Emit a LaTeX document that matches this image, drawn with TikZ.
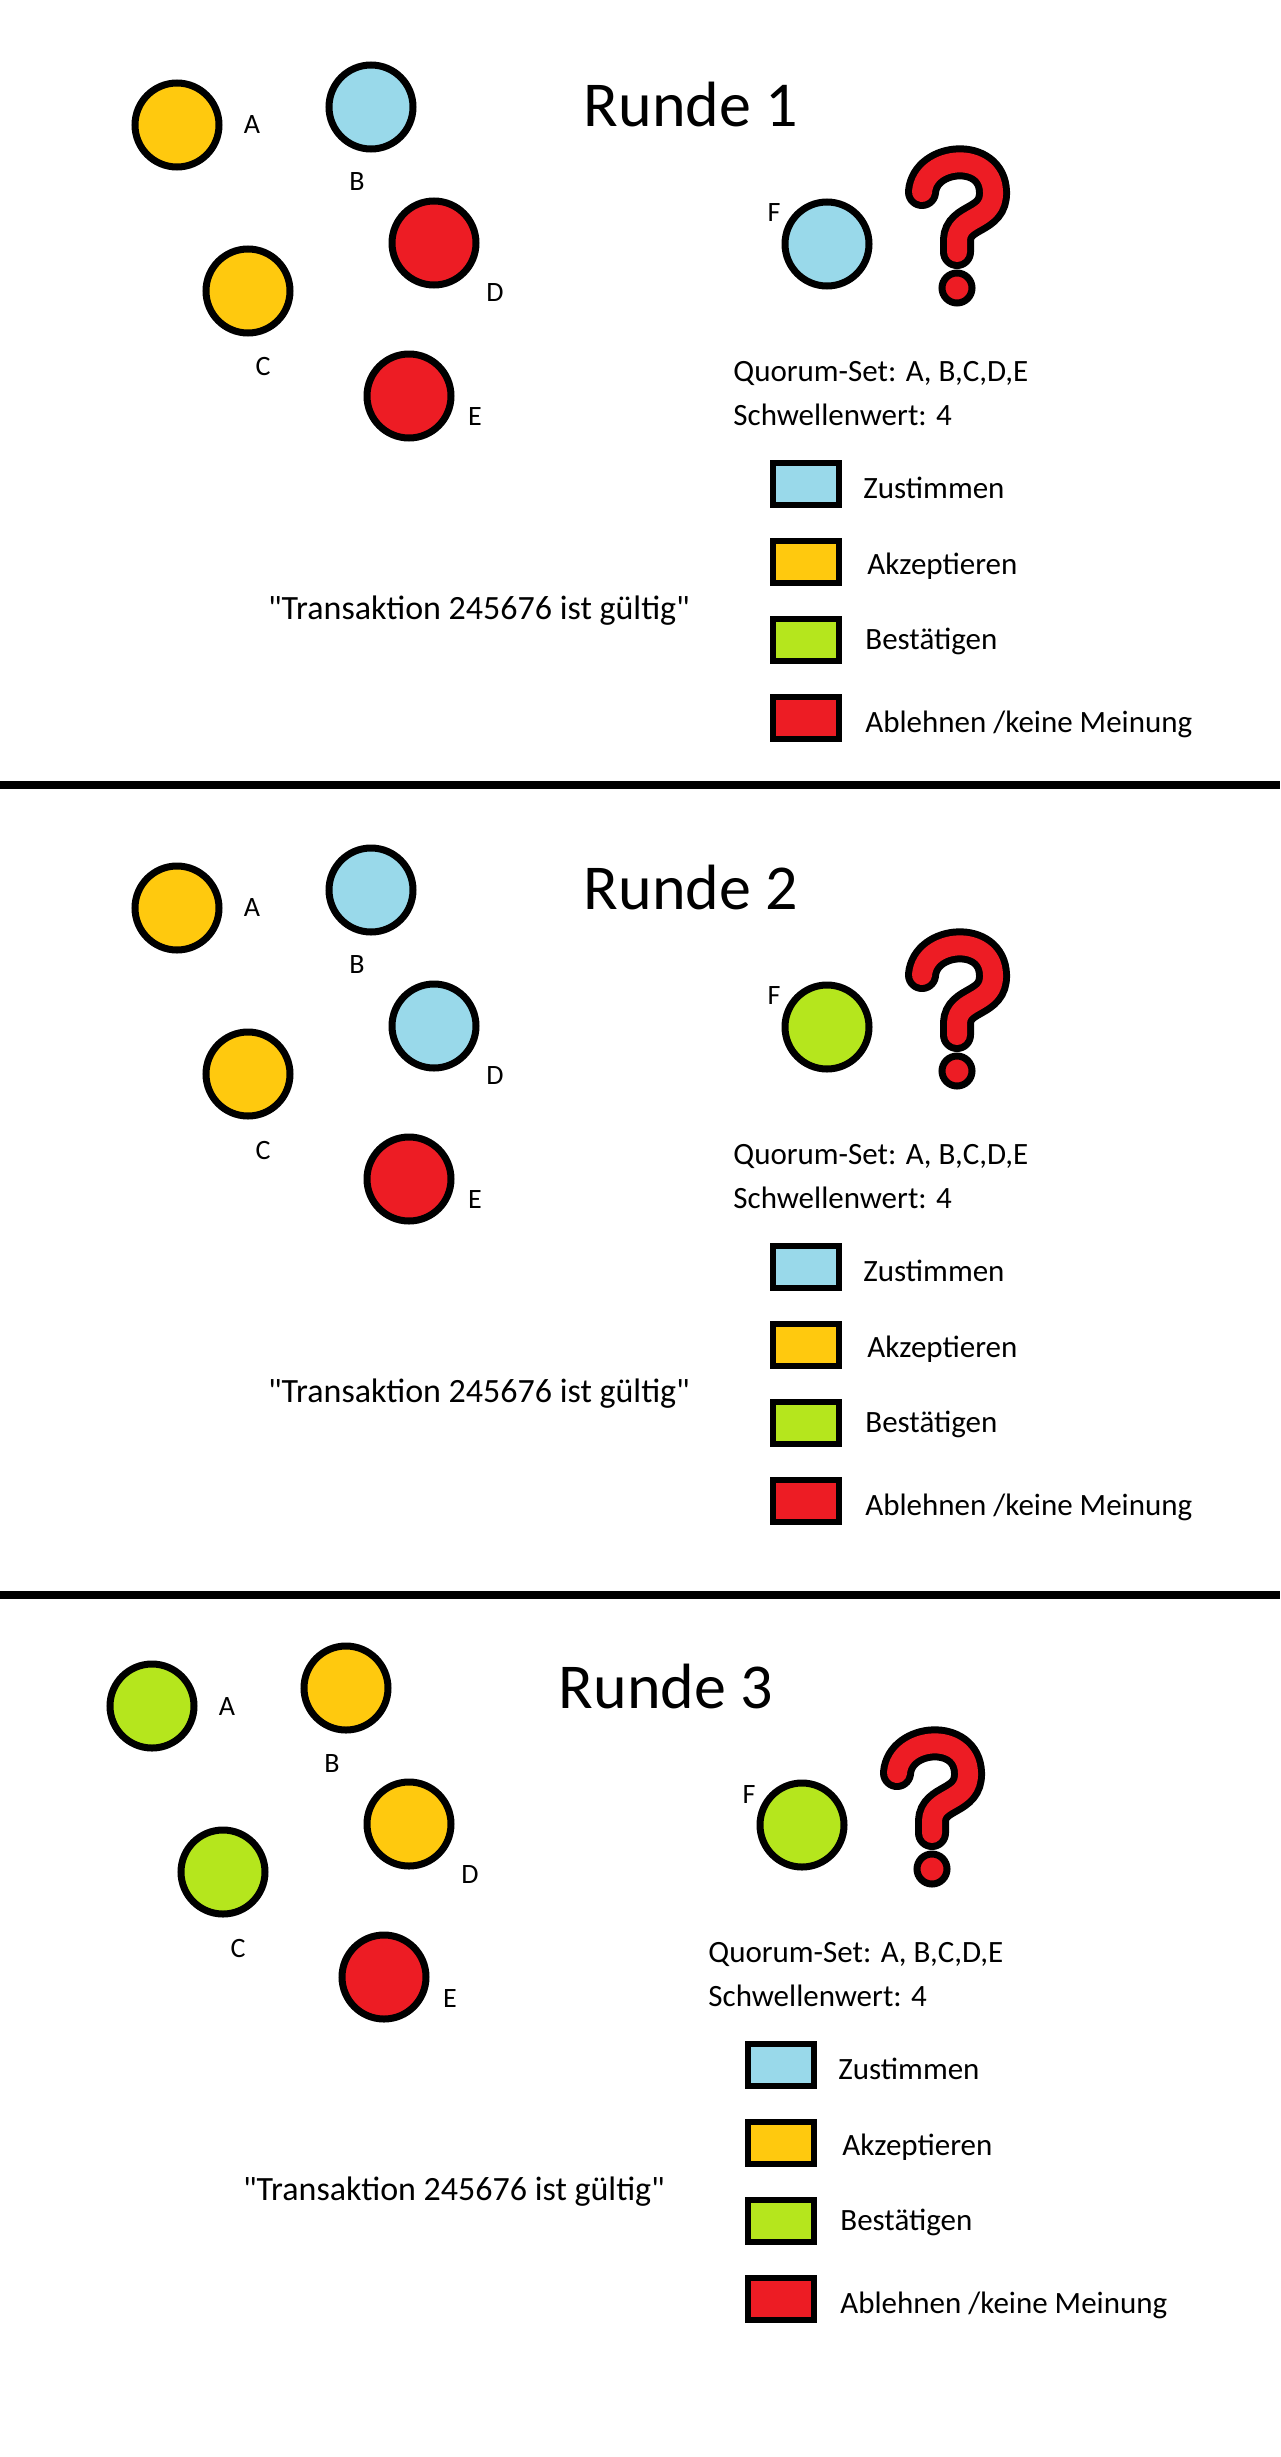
\documentclass[tikz,border=0pt]{standalone}
\usepackage{fontspec}
\setmainfont{Carlito}
\newfontfamily\qf{Carlito}
\definecolor{cblue}{HTML}{99D9EA}
\definecolor{cyel}{HTML}{FFC90E}
\definecolor{cgreen}{HTML}{B5E61D}
\definecolor{cred}{HTML}{ED1C24}
\tikzset{
 pt/.style={circle,draw=black,line width=3.5pt,minimum size=42pt,inner sep=0pt},
 lab/.style={font=\fontsize{14}{16}\selectfont,inner sep=0pt},
 txt/.style={font=\fontsize{15.5}{17}\selectfont,inner sep=0pt,anchor=west},
 box/.style={draw=black,line width=3pt,minimum width=33pt,minimum height=21pt,inner sep=0pt},
 ttl/.style={font=\fontsize{32}{36}\selectfont,inner sep=0pt}
}
\newcommand\drawround[9]{%
 \begin{scope}[shift={(#2,#1)}]
 \node[ttl] (#3t) at (691,105) {Runde #3};
 \node[pt,fill=#4] (#3A) at (177,125) {};
 \node[pt,fill=#5] (#3B) at (371,107) {};
 \node[pt,fill=#6] (#3C) at (248,291) {};
 \node[pt,fill=#7] (#3D) at (434,243) {};
 \node[pt,fill=#8] (#3E) at (409,396) {};
 \node[pt,fill=#9] (#3F) at (827,244) {};
 \node[lab] (#3a) at (252,125) {A};
 \node[lab] (#3b) at (357,182) {B};
 \node[lab] (#3c) at (263,367) {C};
 \node[lab] (#3d) at (495,293) {D};
 \node[lab] (#3e) at (475,417) {E};
 \node[lab] (#3f) at (774,213) {F};
 \draw[line width=17pt,line cap=round] (922,192) .. controls (925,155) and (992,150) .. (993,192) .. controls (994,222) and (958,215) .. (957,240) -- (957,252);
 \draw[line width=10pt,line cap=round,cred] (922,192) .. controls (925,155) and (992,150) .. (993,192) .. controls (994,222) and (958,215) .. (957,240) -- (957,252);
 \node[circle,draw=black,line width=3.5pt,fill=cred,minimum size=15pt,inner sep=0pt] (#3q) at (957,288) {};
 \node[txt] (#3qs) at (733,373) {Quorum-Set: A, B,C,D,E};
 \node[txt] (#3sw) at (733,415) {Schwellenwert: 4};
 \node[box,fill=cblue] (#3b1) at (806,484) {};
 \node[box,fill=cyel] (#3b2) at (806,562) {};
 \node[box,fill=cgreen] (#3b3) at (806,640) {};
 \node[box,fill=cred] (#3b4) at (806,718) {};
 \node[txt] (#3l1) at (863,488) {Zustimmen};
 \node[txt] (#3l2) at (867,566) {Akzeptieren};
 \node[txt] (#3l3) at (865,641) {Bestätigen};
 \node[txt] (#3l4) at (865,724) {Ablehnen /keine Meinung};
 \node[font=\qf\fontsize{17}{19}\selectfont,inner sep=0pt] (#3tx) at (479,611) {"Transaktion 245676 ist gültig"};
 \end{scope}}
\begin{document}
\begin{tikzpicture}[x=0.5pt,y=-0.5pt]
\useasboundingbox[fill=white] (0,0) rectangle (1280,2457);
\drawround{0}{0}{1}{cyel}{cblue}{cyel}{cred}{cred}{cblue}
\drawround{783}{0}{2}{cyel}{cblue}{cyel}{cblue}{cred}{cgreen}
\drawround{1581}{-25}{3}{cgreen}{cyel}{cgreen}{cyel}{cred}{cgreen}
\coordinate (s1l) at (0,785); \coordinate (s1r) at (1280,785);
\coordinate (s2l) at (0,1595); \coordinate (s2r) at (1280,1595);
\draw[line width=4pt] (s1l) -- (s1r);
\draw[line width=4pt] (s2l) -- (s2r);
\end{tikzpicture}
\end{document}
